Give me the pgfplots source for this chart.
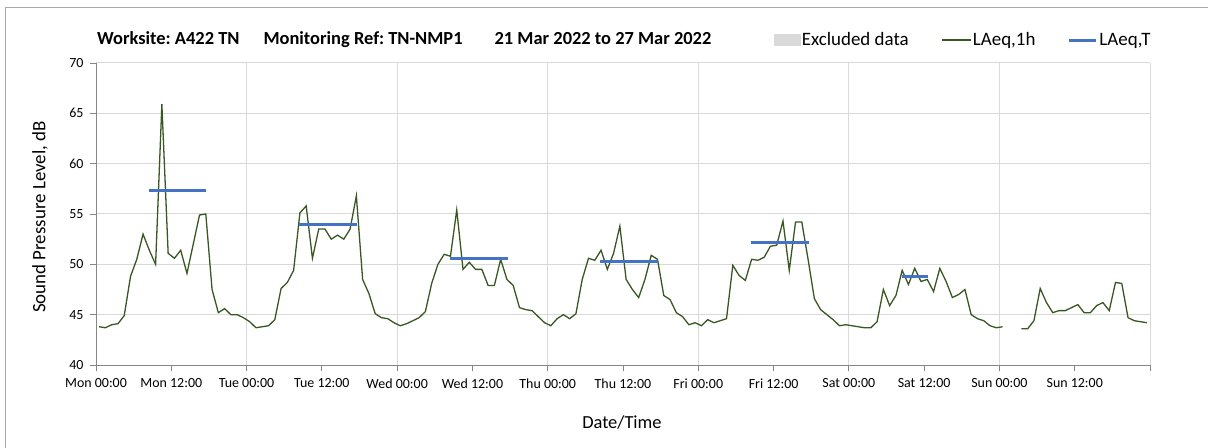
\documentclass[border=0pt]{standalone}
\usepackage{fontspec}
\setmainfont{Carlito}
\usepackage{pgfplots}
\pgfplotsset{compat=1.18}
\usepackage{pgfplotstable}
\definecolor{lgreen}{RGB}{56,87,35}
\definecolor{lblue}{RGB}{68,114,196}
\definecolor{gridc}{RGB}{217,217,217}
\definecolor{axisc}{RGB}{134,134,134}
\definecolor{exc}{RGB}{217,217,217}
\definecolor{framec}{RGB}{170,170,170}
\frenchspacing

\pgfplotstableread{
h v
0.5 43.8
1.5 43.7
2.5 44.0
3.5 44.1
4.5 44.9
5.5 48.8
6.5 50.5
7.5 53.0
8.5 51.4
9.5 50.0
10.5 65.9
11.5 51.1
12.5 50.6
13.5 51.4
14.5 49.1
15.5 52.0
16.5 54.9
17.5 55.0
18.5 47.5
19.5 45.2
20.5 45.6
21.5 45.0
22.5 45.0
23.5 44.7
24.5 44.3
25.5 43.7
26.5 43.8
27.5 43.9
28.5 44.5
29.5 47.6
30.5 48.2
31.5 49.4
32.5 55.1
33.5 55.8
34.5 50.6
35.5 53.5
36.5 53.5
37.5 52.5
38.5 52.9
39.5 52.5
40.5 53.5
41.5 56.8
42.5 48.5
43.5 47.1
44.5 45.1
45.5 44.7
46.5 44.6
47.5 44.2
48.5 43.9
49.5 44.1
50.5 44.4
51.5 44.7
52.5 45.3
53.5 48.1
54.5 50.0
55.5 51.0
56.5 50.8
57.5 55.4
58.5 49.5
59.5 50.2
60.5 49.5
61.5 49.5
62.5 47.9
63.5 47.9
64.5 50.5
65.5 48.5
66.5 47.9
67.5 45.7
68.5 45.5
69.5 45.4
70.5 44.8
71.5 44.2
72.5 43.9
73.5 44.6
74.5 45.0
75.5 44.6
76.5 45.1
77.5 48.5
78.5 50.6
79.5 50.4
80.5 51.4
81.5 49.5
82.5 51.1
83.5 53.8
84.5 48.5
85.5 47.5
86.5 46.7
87.5 48.5
88.5 50.9
89.5 50.5
90.5 46.9
91.5 46.5
92.5 45.2
93.5 44.8
94.5 44.0
95.5 44.2
96.5 43.9
97.5 44.5
98.5 44.2
99.5 44.4
100.5 44.6
101.5 49.9
102.5 48.9
103.5 48.4
104.5 50.5
105.5 50.4
106.5 50.7
107.5 51.8
108.5 51.9
109.5 54.3
110.5 49.4
111.5 54.2
112.5 54.2
113.5 50.5
114.5 46.6
115.5 45.5
116.5 45.0
117.5 44.5
118.5 43.9
119.5 44.0
120.5 43.9
121.5 43.8
122.5 43.7
123.5 43.7
124.5 44.3
125.5 47.5
126.5 45.9
127.5 46.9
128.5 49.4
129.5 48.0
130.5 49.6
131.5 48.3
132.5 48.5
133.5 47.3
134.5 49.6
135.5 48.3
136.5 46.7
137.5 47.0
138.5 47.5
139.5 45.0
140.5 44.6
141.5 44.4
142.5 43.9
143.5 43.7
144.5 43.8
145.5 nan
146.5 nan
147.5 43.6
148.5 43.6
149.5 44.4
150.5 47.6
151.5 46.2
152.5 45.2
153.5 45.4
154.5 45.4
155.5 45.7
156.5 46.0
157.5 45.2
158.5 45.2
159.5 45.9
160.5 46.2
161.5 45.4
162.5 48.2
163.5 48.1
164.5 44.7
165.5 44.4
166.5 44.3
167.5 44.2
}\hourly

\pgfplotstableread{
h v
8.4 57.3
17.6 57.3
25 nan
32.4 54.0
41.6 54.0
50 nan
56.4 50.6
65.6 50.6
75 nan
80.4 50.3
89.6 50.3
100 nan
104.4 52.2
113.6 52.2
120 nan
128.4 48.8
132.6 48.8
}\period

\begin{document}
\begin{tikzpicture}
\draw[color=framec, line width=1bp] (5bp,0bp) -- (5bp,440bp) -- (1208bp,440bp);
\begin{axis}[
  at={(96bp,83bp)}, anchor=south west,
  scale only axis, width=1054bp, height=302bp,
  xmin=0, xmax=168, ymin=40, ymax=70,
  axis x line*=bottom, axis y line*=left,
  axis line style={color=axisc, line width=1bp, -},
  tick align=outside,
  major tick length=6bp,
  tick style={color=axisc, line width=0.8bp},
  xtick={0,12,...,168},
  xticklabels={Mon 00:00, Mon 12:00, Tue 00:00, Tue 12:00, Wed 00:00, Wed 12:00, Thu 00:00, Thu 12:00, Fri 00:00, Fri 12:00, Sat 00:00, Sat 12:00, Sun 00:00, Sun 12:00, {}},
  extra x ticks={24,48,...,168},
  extra x tick labels={},
  extra x tick style={xmajorgrids=true, major tick length=0bp},
  ytick={40,45,...,70},
  ymajorgrids=true,
  grid style={color=gridc, line width=1bp},
  /pgf/number format/assume math mode=true,
  xticklabel style={font=\fontsize{14}{16}\selectfont, yshift=-4bp},
  yticklabel style={font=\fontsize{14}{16}\selectfont, xshift=-3bp},
  xlabel={Date/Time},
  ylabel={Sound Pressure Level, dB},
  xlabel style={at={(axis description cs:0.499,-0.189)}, anchor=center, font=\fontsize{18.5}{21}\selectfont},
  ylabel style={at={(axis description cs:-0.0531,0.49)}, anchor=center, font=\fontsize{19}{22}\selectfont},
  title={Worksite: A422 TN\hspace{24bp}Monitoring Ref: TN-NMP1\hspace{32bp}21 Mar 2022 to 27 Mar 2022},
  title style={at={(axis description cs:0,1)}, anchor=base west, yshift=13bp, xshift=1bp, inner sep=0pt, font=\bfseries\fontsize{18.5}{21}\selectfont},
  legend columns=3,
  legend style={at={(axis description cs:0.643,1.076)}, anchor=west, draw=none, fill=none, inner sep=0pt,
    font=\fontsize{19}{22}\selectfont, nodes={inner sep=1.5bp},
    /tikz/every even column/.append style={column sep=31bp}},
  unbounded coords=jump,
]
\addlegendimage{legend image code/.code={\fill[exc] (0bp,-5.5bp) rectangle (26bp,5.5bp);}}
\addlegendentry{Excluded data}
\addplot[color=lgreen, line width=1.3bp, mark=none,
  legend image code/.code={\draw[color=lgreen, line width=1.2bp] (0bp,0bp) -- (29bp,0bp);}]
  table[x=h, y=v] {\hourly};
\addlegendentry{LAeq,1h}
\addplot[color=lblue, line width=3bp, mark=none,
  legend image code/.code={\draw[color=lblue, line width=3bp] (0bp,0bp) -- (27bp,0bp);}]
  table[x=h, y=v] {\period};
\addlegendentry{LAeq,T}
\end{axis}
\pgfresetboundingbox
\path[use as bounding box] (0bp,0bp) rectangle (1208bp,448bp);
\end{tikzpicture}
\end{document}
